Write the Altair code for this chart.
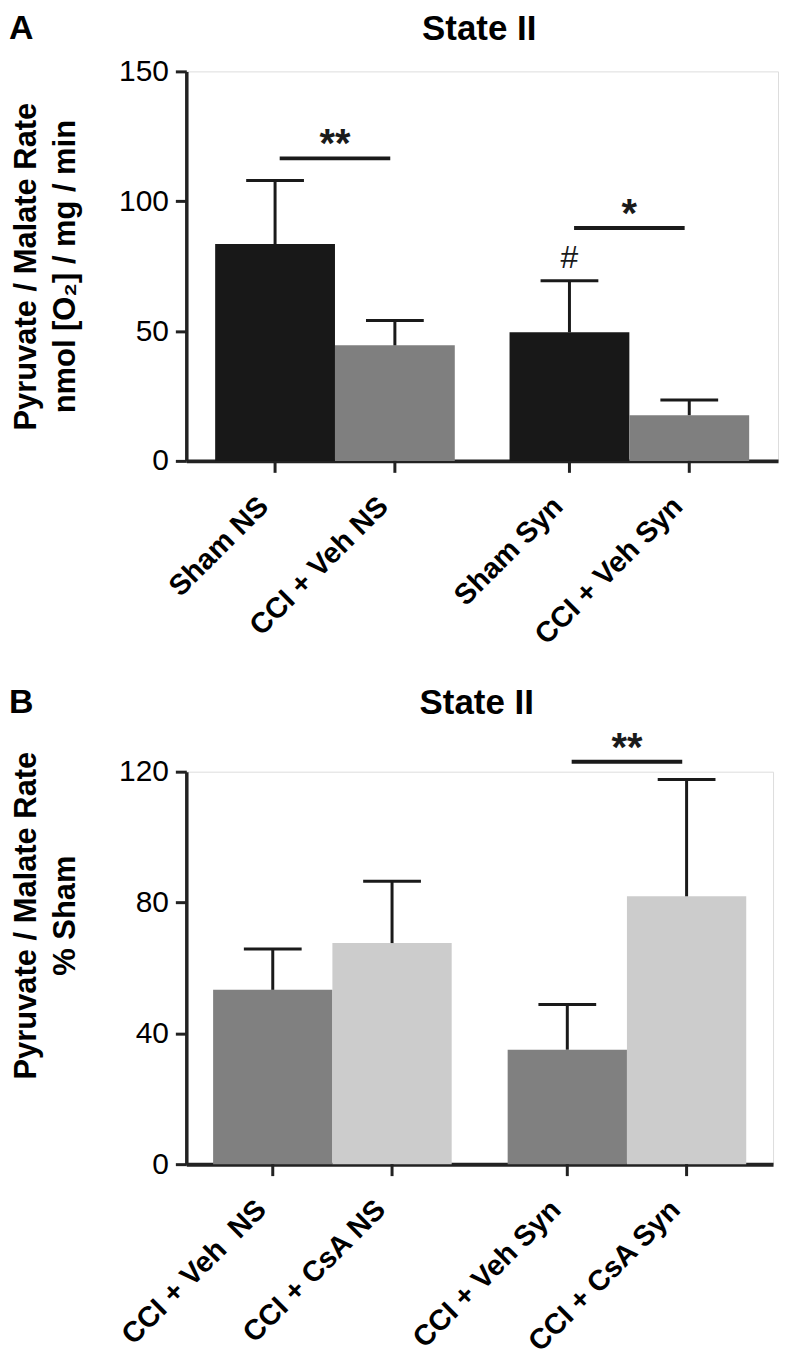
import altair as alt
import pandas as pd

FONT = "Liberation Sans"
INK = "#1a1a1a"

# ---------------- Panel A data ----------------
a_group = ["NS", "NS", "Syn", "Syn"]
a_treat = ["Sham", "CCI + Veh", "Sham", "CCI + Veh"]
a_label = ["Sham NS", "CCI + Veh NS", "Sham Syn", "CCI + Veh Syn"]
a_mean = [83.5, 44.5, 49.5, 17.6]
a_sem = [24.5, 9.6, 19.9, 5.8]
a_colors = ["#181818", "#7f7f7f"]
a_sig_group = ["NS", "Syn"]
a_sig_y = [116.5, 89.7]
a_sig_text = ["**", "*"]
a_hash_group = ["Syn"]
a_hash_treat = ["Sham"]
a_hash_text = ["#"]
a_yticks = [0, 50, 100, 150]

# ---------------- Panel B data ----------------
b_group = ["NS", "NS", "Syn", "Syn"]
b_treat = ["CCI + Veh", "CCI + CsA", "CCI + Veh", "CCI + CsA"]
b_label = ["CCI + Veh\u00a0 NS", "CCI + CsA NS", "CCI + Veh Syn", "CCI + CsA Syn"]
b_mean = [53.3, 67.6, 35.0, 81.9]
b_sem = [12.5, 18.9, 13.8, 35.7]
b_colors = ["#808080", "#cccccc"]
b_sig_group = ["Syn"]
b_sig_y = [123.0]
b_sig_text = ["**"]
b_yticks = [0, 40, 80, 120]


def panel(group, treat, label, mean, sem, colors, treat_order, sig_group, sig_y,
          sig_text, ymax, yticks, ytitle, W, H, pi, po, letter, letter_y,
          title_y_px=None, hash_rows=None):
    df = pd.DataFrame({
        "group": group, "treat": treat, "label": label, "mean": mean,
        "upper": [m + s for m, s in zip(mean, sem)],
    })
    sig = pd.DataFrame({"group": sig_group, "y": sig_y, "text": sig_text})

    xscale = alt.Scale(type="band", paddingInner=pi, paddingOuter=po)
    xaxis = alt.Axis(labels=False, ticks=False, title=None, domainWidth=4,
                     domainColor="#222")
    yscale = alt.Scale(domain=[0, ymax], nice=False, zero=True)
    axis_kw = dict(values=yticks, title=ytitle, titleFontSize=31,
                   titleFontWeight="bold", titleLineHeight=39, titlePadding=37,
                   titleFont=FONT, titleColor="black", labelFont=FONT,
                   labelFontSize=30, labelColor="black", labelPadding=7,
                   tickSize=11, tickWidth=3, tickColor="#222", domainWidth=3.5,
                   domainColor="#222", grid=False)
    if title_y_px is not None:
        axis_kw["titleY"] = title_y_px
    yaxis = alt.Axis(**axis_kw)

    def X():
        return alt.X("group:N", sort=["NS", "Syn"], scale=xscale, axis=xaxis)

    def XO():
        return alt.XOffset("treat:N", sort=treat_order,
                           scale=alt.Scale(type="band", paddingInner=0,
                                           paddingOuter=0))

    def Y(field):
        return alt.Y(field, scale=yscale, axis=yaxis)

    base = alt.Chart(df)
    bars = base.mark_bar(opacity=1).encode(
        x=X(), xOffset=XO(), y=Y("mean:Q"),
        color=alt.Color("treat:N", sort=treat_order,
                        scale=alt.Scale(domain=treat_order, range=colors),
                        legend=None),
    )
    err = base.mark_rule(strokeWidth=3, color=INK, opacity=1).encode(
        x=X(), xOffset=XO(), y=Y("mean:Q"), y2="upper:Q")
    caps = base.mark_tick(size=58, thickness=3, color=INK, opacity=1,
                          orient="horizontal").encode(
        x=X(), xOffset=XO(), y=Y("upper:Q"))
    xticks = base.mark_rule(strokeWidth=3, color="#222", opacity=1).encode(
        x=X(), xOffset=XO(), y=alt.value(H), y2=alt.value(H + 12))
    xlabels = base.mark_text(angle=315, align="right", baseline="top",
                             fontSize=29, fontWeight="bold", font=FONT,
                             dx=-30, color="black").encode(
        x=X(), xOffset=XO(), y=alt.value(H + 10), text="label:N")

    sbase = alt.Chart(sig)
    sig_lines = sbase.mark_tick(size=111, thickness=4, color=INK, opacity=1,
                                orient="horizontal").encode(
        x=X(), y=Y("y:Q"))
    sig_marks = sbase.mark_text(fontSize=40, fontWeight="bold", font=FONT,
                                baseline="alphabetic", dy=-1,
                                color=INK).encode(
        x=X(), y=Y("y:Q"), text="text:N")

    letter_mark = alt.Chart(pd.DataFrame({"t": [letter]})).mark_text(
        fontSize=34, fontWeight="bold", font=FONT, align="left",
        baseline="top", color="black").encode(
        x=alt.value(-178), y=alt.value(letter_y), text="t:N")
    title_mark = alt.Chart(pd.DataFrame({"t": ["State II"]})).mark_text(
        fontSize=35, fontWeight="bold", font=FONT, align="center",
        baseline="top", color="black").encode(
        x=alt.value(W / 2 - 3), y=alt.value(letter_y), text="t:N")

    layers = [bars, err, caps, xticks, xlabels, sig_lines, sig_marks,
              letter_mark, title_mark]
    if hash_rows is not None:
        hdf = pd.DataFrame(hash_rows)
        hdf = hdf.merge(df[["group", "treat", "upper"]], on=["group", "treat"])
        hash_mark = alt.Chart(hdf).mark_text(
            fontSize=32, font=FONT, baseline="alphabetic", dy=-13,
            color=INK).encode(x=X(), xOffset=XO(), y=Y("upper:Q"),
                              text="text:N")
        layers.append(hash_mark)
    return alt.layer(*layers).properties(width=W, height=H)


chart_a = panel(a_group, a_treat, a_label, a_mean, a_sem, a_colors,
                ["Sham", "CCI + Veh"], a_sig_group, a_sig_y, a_sig_text,
                150, a_yticks,
                ["Pyruvate / Malate Rate", "nmol [O\u2082] / mg / min"],
                594, 391, 0.186, 0.098, "A", -60,
                hash_rows={"group": a_hash_group, "treat": a_hash_treat,
                           "text": a_hash_text})

chart_b = panel(b_group, b_treat, b_label, b_mean, b_sem, b_colors,
                ["CCI + Veh", "CCI + CsA"], b_sig_group, b_sig_y, b_sig_text,
                120, b_yticks, ["Pyruvate / Malate Rate", "% Sham"],
                589, 394, 0.19, 0.091, "B", -86, title_y_px=144)

chart = alt.vconcat(chart_a, chart_b, spacing=34).resolve_scale(
    color="independent", x="independent", y="independent",
    xOffset="independent"
).properties(
    padding={"left": 0, "top": 0, "right": 5, "bottom": 5}
).configure_view(stroke="transparent").configure(font=FONT)

chart.save("out.html", embed_options={"renderer": "svg", "actions": False})
